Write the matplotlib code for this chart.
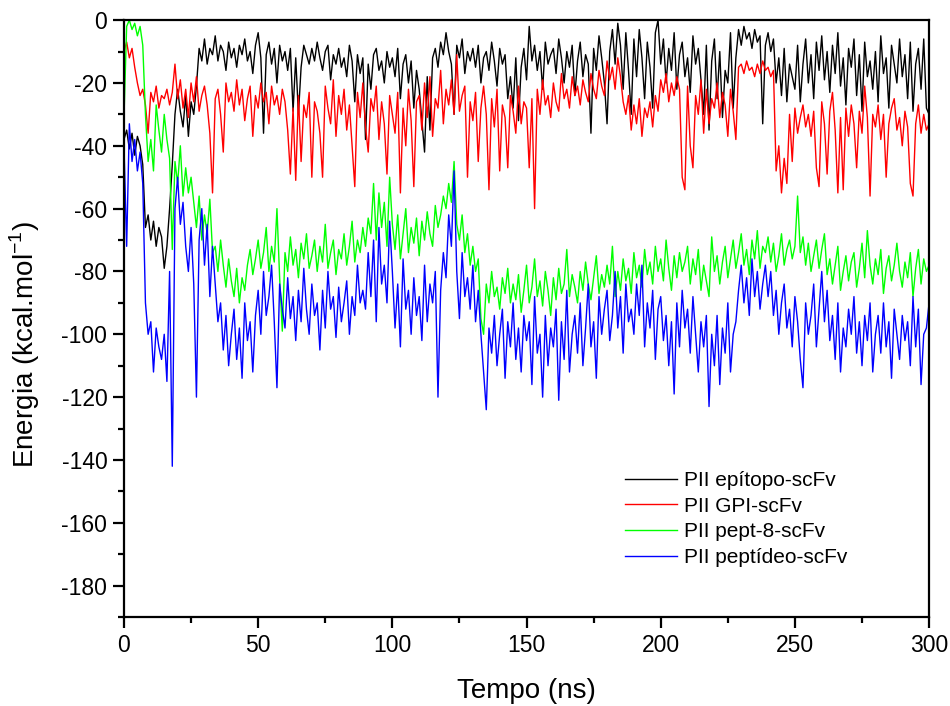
import numpy as np
import matplotlib
matplotlib.use('Agg')
import matplotlib.pyplot as plt

plt.rcParams['font.family'] = ['Liberation Sans', 'DejaVu Sans']
plt.rcParams['axes.unicode_minus'] = False

# time axis (ns), one value per ns
tempo = list(range(0, 301))

epitopo = [
    -38, -35, -41, -36, -43, -37, -40, -46, -66, -62,
    -70, -64, -72, -66, -69, -79, -72, -60, -46, -30,
    -22, -29, -34, -24, -37, -26, -30, -21, -9, -13,
    -6, -14, -9, -11, -5, -13, -8, -10, -16, -7,
    -12, -9, -15, -8, -11, -6, -13, -10, -17, -8,
    -4, -12, -36, -11, -7, -14, -9, -20, -8, -13,
    -10, -16, -9, -29, -12, -30, -15, -8, -11, -14,
    -9, -13, -7, -12, -16, -10, -8, -19, -11, -14,
    -9, -15, -12, -18, -8, -13, -26, -11, -17, -12,
    -38, -14, -22, -11, -9, -16, -13, -20, -10, -15,
    -12, -18, -9, -25, -14, -11, -20, -13, -28, -16,
    -22, -32, -42, -18, -35, -12, -9, -15, -7, -11,
    -4, -10, -14, -30, -8, -12, -6, -17, -10, -13,
    -9, -15, -8, -20, -12, -10, -16, -7, -13, -21,
    -9, -14, -11, -25, -18, -28, -12, -32, -15, -9,
    -19, -2, -13, -8, -16, -10, -22, -7, -14, -11,
    -9, -17, -6, -12, -20, -10, -15, -8, -24, -13,
    -7, -18, -11, -14, -36, -9, -16, -5, -12, -20,
    -33, -10, -3, -14, -1, -8, -22, -4, -16, -30,
    -6, -18, -3, -12, -25, -7, -15, -28, -4, 0,
    -14, -6, -20, -9, -16, -4, -22, -11, -7, -18,
    -12, -23, -5, -14, -9, -19, -30, -8, -35, -13,
    -6, -25, -10, -31, -16, -20, -4, -28, -12, -3,
    -8, -2, -6, -4, -9, -3, -7, -5, -33, -8,
    -4, -10, -6, -20, -12, -24, -9, -26, -14, -18,
    -22, -8, -26, -14, -6, -20, -11, -25, -7, -16,
    -5, -19, -10, -23, -8, -17, -4, -21, -12, -27,
    -9, -15, -6, -24, -11, -29, -7, -18, -13, -22,
    -10, -26, -5, -17, -12, -28, -8, -14, -20, -6,
    -18, -11, -25, -7, -29, -14, -9, -22, -6, -28,
    -30,
]

gpi = [
    -10, -7, -12, -9, -15, -20, -24, -22, -27, -36,
    -23, -26, -21, -28, -24, -25, -22, -27, -23, -14,
    -25, -19, -28, -22, -31, -20, -26, -18, -29, -24,
    -21, -27, -36, -55, -25, -22, -30, -42, -20, -26,
    -23, -29, -19, -27, -22, -32, -25, -21, -37, -24,
    -28, -20, -26, -23, -33, -21, -27, -24, -30, -22,
    -26, -35, -49, -28, -51, -24, -45, -27, -31, -23,
    -50, -26, -29, -36, -50, -21, -28, -33, -19, -37,
    -24, -30, -22, -35, -27, -40, -53, -23, -31, -20,
    -34, -42, -25, -29, -21, -38, -26, -33, -49, -24,
    -30, -36, -23, -55, -28, -40, -22, -32, -53, -26,
    -24, -35, -20, -31, -18, -37, -25, -28, -16, -33,
    -22, -27, -19, -30, -11, -29, -24, -21, -50, -26,
    -32, -23, -45, -28, -21, -30, -54, -25, -34, -22,
    -48, -27, -31, -47, -24, -29, -36, -21, -33, -26,
    -28, -47, -25, -60, -22, -30, -19, -27, -24, -31,
    -20, -26, -29, -17, -25, -22, -28, -18, -24, -21,
    -27, -19, -23, -26, -17, -22, -25, -16, -21, -24,
    -13, -19, -15, -22, -12, -18, -26, -30, -24, -35,
    -27, -33, -25, -37, -28, -31, -26, -34, -24, -29,
    -19, -23, -17, -26, -20, -24, -18, -22, -50, -54,
    -21, -40, -47, -24, -30, -19, -36, -22, -33, -25,
    -28, -20, -31, -23, -27, -37, -22, -29, -38, -15,
    -14, -17, -13, -16, -15, -18, -14, -17, -13, -16,
    -15, -18, -16, -48, -40, -55, -44, -52, -30, -45,
    -28, -36, -31, -27, -34, -30, -37, -29, -47, -53,
    -26, -33, -49, -29, -23, -35, -55, -31, -54, -28,
    -37, -27, -33, -47, -29, -36, -21, -31, -56, -30,
    -34, -27, -38, -30, -50, -33, -28, -25, -35, -31,
    -40, -29, -34, -52, -56, -33, -27, -36, -30, -35,
    -33,
]

pept8 = [
    -31, -2, 0, -3, -1, -5, -2, -8, -30, -45,
    -38, -48, -27, -35, -42, -30, -38, -44, -73, -45,
    -52, -40, -56, -47, -55, -50, -58, -66, -56, -70,
    -62, -68, -57, -74, -72, -80, -70, -78, -85, -76,
    -83, -88, -79, -90, -82, -86, -78, -73, -81, -76,
    -70, -79, -74, -66, -80, -72, -77, -60, -82, -99,
    -74, -80, -69, -78, -73, -82, -71, -76, -68, -79,
    -75, -70, -80, -72, -77, -65, -79, -74, -70, -81,
    -73, -76, -68, -78, -72, -64, -77, -70, -74, -66,
    -72, -63, -68, -52, -70, -55, -66, -58, -72, -50,
    -65, -73, -62, -76, -68, -60, -74, -66, -71, -63,
    -75, -64, -70, -61, -68, -72, -59, -66, -62, -56,
    -60, -52, -58, -45, -65, -70, -62, -74, -68, -78,
    -72, -80, -76, -95, -100, -84, -90, -80, -88, -85,
    -92, -82, -87, -79, -90, -84, -89, -81, -93, -86,
    -78, -90, -85, -76, -88, -83, -91, -80, -86, -94,
    -82, -89, -79, -87, -84, -73, -88, -81, -85, -90,
    -80, -86, -77, -84, -89, -82, -75, -87, -81, -85,
    -78, -84, -72, -88, -80, -86, -76, -83, -79, -87,
    -74, -82, -78, -85, -73, -81, -77, -84, -72, -80,
    -76, -83, -70, -79, -86, -75, -82, -74, -80, -77,
    -72, -84, -76, -81, -73, -86, -78, -83, -88, -69,
    -80, -75, -84, -77, -72, -82, -76, -70, -79, -74,
    -68, -78, -73, -81, -70, -76, -67, -79, -72, -74,
    -69, -77, -71, -80, -75, -68, -78, -73, -70, -76,
    -72, -56, -74, -69, -78, -71, -80, -75, -70, -79,
    -73, -68, -81, -76, -84, -78, -72, -86, -80, -75,
    -83, -77, -74, -85, -79, -71, -82, -67, -78, -84,
    -76, -81, -73, -87, -79, -75, -83, -78, -71, -80,
    -85, -77, -82, -74, -88, -79, -73, -84, -76, -80,
    -78,
]

peptideo = [
    -40, -72, -33, -45, -38, -48, -42, -52, -90, -100,
    -96, -112, -98, -104, -108, -100, -115, -80, -142, -60,
    -50, -65, -58, -72, -80, -66, -84, -120, -70, -60,
    -78, -65, -88, -72, -84, -96, -90, -105, -94, -110,
    -100, -92, -108, -98, -114, -90, -102, -96, -112, -94,
    -86, -100, -80, -94, -88, -78, -96, -117, -84, -92,
    -98, -82, -95, -88, -102, -86, -96, -79, -92, -100,
    -84, -94, -90, -105, -86, -98, -80, -92, -88, -101,
    -85, -96, -90, -83, -100, -88, -94, -78, -90, -86,
    -92, -74, -88, -70, -96, -66, -84, -78, -90, -64,
    -80, -98, -84, -104, -76, -92, -86, -100, -82, -94,
    -88, -102, -78, -96, -84, -90, -80, -120, -86, -74,
    -82, -62, -72, -48, -80, -95, -74, -88, -82, -92,
    -78, -96, -86, -100, -112, -124, -98, -106, -94, -110,
    -100, -92, -114, -96, -104, -90, -108, -98, -112, -94,
    -102, -96, -116, -88, -106, -100, -120, -94, -110, -98,
    -104, -92, -121, -96, -108, -86, -112, -100, -94, -106,
    -90, -110, -98, -84, -104, -96, -114, -88, -100, -92,
    -86, -102, -94, -80, -98, -88, -106, -84, -96, -92,
    -100, -84, -94, -78, -104, -90, -98, -86, -108, -92,
    -88, -102, -94, -110, -96, -119, -90, -104, -86, -98,
    -92, -106, -88, -100, -112, -96, -104, -94, -123, -100,
    -110, -94, -116, -98, -106, -90, -112, -100, -96, -86,
    -78, -90, -82, -94, -76, -88, -80, -92, -84, -78,
    -88, -80, -94, -86, -100, -90, -84, -98, -92, -104,
    -88, -96, -108, -117, -90, -100, -94, -84, -104, -92,
    -80, -96, -86, -102, -94, -108, -90, -112, -98, -104,
    -92, -100, -88, -106, -96, -110, -94, -102, -90, -112,
    -100, -94, -106, -90, -104, -96, -114, -92, -100, -108,
    -94, -102, -96, -110, -88, -104, -92, -116, -100, -98,
    -90,
]

labels = ['PII epítopo-scFv', 'PII GPI-scFv', 'PII pept-8-scFv', 'PII peptídeo-scFv']
colors = ['#000000', '#ff0000', '#00ff00', '#0000ff']

fig = plt.figure(figsize=(9.5, 7.06), dpi=100)
ax = fig.add_axes([0.1305, 0.126, 0.8475, 0.8455])

for serie, lab, col in zip([epitopo, gpi, pept8, peptideo], labels, colors):
    ax.plot(tempo, serie, color=col, linewidth=1.0, label=lab)

ax.set_xlim(0, 300)
ax.set_ylim(-190, 0)
ax.set_xticks(np.arange(0, 301, 50))
ax.set_xticks(np.arange(25, 300, 50), minor=True)
ax.set_yticks(np.arange(-180, 1, 20))
ax.set_yticks(np.arange(-190, 0, 20), minor=True)

for s in ax.spines.values():
    s.set_linewidth(1.6)
ax.tick_params(which='major', direction='out', length=8, width=1.6, labelsize=16.5, pad=4)
ax.tick_params(which='minor', direction='out', length=4.5, width=1.6)

ax.set_xlabel('Tempo (ns)', fontsize=20, labelpad=15)
ax.set_ylabel('Energia (kcal.mol$^{\\mathregular{-1}}$)', fontsize=20)
ax.yaxis.set_label_coords(-0.102, 0.456)

ax.legend(loc='upper left', bbox_to_anchor=(0.658, 0.333), bbox_transform=fig.transFigure,
          frameon=False, fontsize=15, handlelength=2.5, handletextpad=0.35,
          labelspacing=0.32, borderpad=0, borderaxespad=0)

fig.savefig('out.png', dpi=100)
